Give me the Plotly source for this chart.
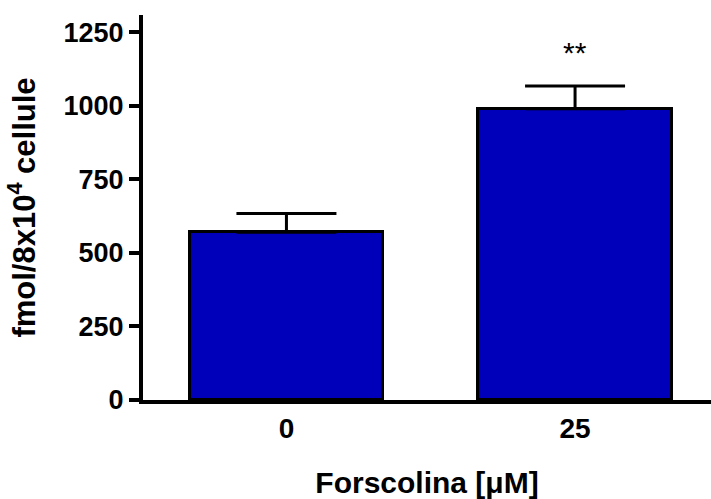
import plotly.graph_objects as go

# Forskolin concentration groups and measured cAMP levels
categories = ["0", "25"]
positions = [0, 1]
means = [570, 990]
sem = [64, 78]
significance = ["", "**"]

y_ticks = [0, 250, 500, 750, 1000, 1250]

FONT = "Arial, Liberation Sans, Helvetica, sans-serif"
BAR_COLOR = "#0000BB"

fig = go.Figure()

fig.add_trace(go.Bar(
    x=positions,
    y=means,
    width=0.67,
    marker=dict(color=BAR_COLOR, line=dict(color="black", width=3)),
    error_y=dict(type="data", array=sem, arrayminus=[0, 0], symmetric=False,
                 color="black", thickness=3, width=50),
    showlegend=False,
))

for xp, m, s, lab in zip(positions, means, sem, significance):
    if lab:
        fig.add_annotation(x=xp, y=m + s + 115, text=lab, showarrow=False,
                           font=dict(family=FONT, size=30, color="black"))

fig.update_layout(
    width=711, height=499,
    margin=dict(l=143, r=0, t=15, b=99),
    plot_bgcolor="white", paper_bgcolor="white",
    font=dict(family=FONT, color="black"),
    bargap=0,
)

fig.update_xaxes(
    range=[-0.497, 1.471],
    tickvals=positions, ticktext=categories,
    showline=True, linecolor="black", linewidth=4,
    ticks="", showgrid=False, zeroline=False,
    tickfont=dict(family=FONT, size=28, color="black", weight="bold"),
    title=dict(text="Forscolina [μM]", standoff=32,
               font=dict(family=FONT, size=30, color="black", weight="bold")),
)

fig.update_yaxes(
    range=[0, 1309],
    tickvals=y_ticks, ticktext=[str(v) for v in y_ticks],
    showline=True, linecolor="black", linewidth=4,
    ticks="outside", ticklen=10, tickwidth=4, tickcolor="black",
    showgrid=False, zeroline=False,
    tickfont=dict(family=FONT, size=27, color="black", weight="bold"),
    title=dict(text="fmol/8x10<sup>4</sup> cellule", standoff=20,
               font=dict(family=FONT, size=31, color="black", weight="bold")),
)

fig.write_html("out.html")
